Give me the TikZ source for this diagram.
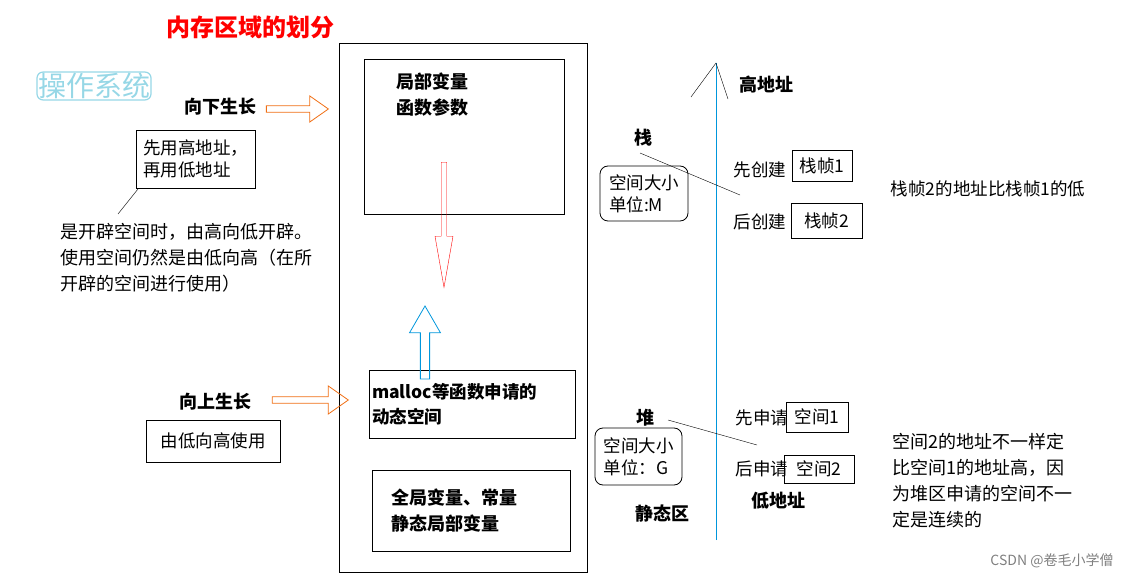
\documentclass[tikz,border=0pt]{standalone}
\usepackage{fontspec}
\setmainfont{Noto Sans CJK SC}
\usetikzlibrary{shapes.arrows}
\definecolor{osblue}{RGB}{150,215,230}
\definecolor{axblue}{RGB}{0,150,220}
\definecolor{grorange}{RGB}{240,110,20}
\tikzstyle{txt}=[inner sep=0pt, font=\fontsize{17.5}{22}\selectfont]
\tikzstyle{bold}=[txt, font=\fontsize{18}{22}\selectfont\bfseries]
\tikzstyle{box}=[draw, txt, inner sep=3pt, align=left]
\tikzstyle{rbox}=[box, rounded corners=8pt, inner sep=3pt]
\tikzstyle{area}=[draw, thick]
\begin{document}
\begin{tikzpicture}[x=1pt, y=-1pt, line width=0.8pt]
                \useasboundingbox (0,0) rectangle (1125,580);
                \node[txt, text=red, font=\fontsize{24}{28}\selectfont\bfseries] (title) at (250,27) {内存区域的划分};
                \node[draw=osblue, very thick, rounded corners=6pt, text=osblue, font=\fontsize{28}{32}\selectfont, inner sep=1pt] (os) at (94,86) {操作系统};
                % memory column
                \draw (339,43) rectangle (587,572);
                \node[area, minimum width=200pt, minimum height=155pt] (stack) at (464,136.5) {};
                \node[txt, font=\fontsize{18}{26}\selectfont\bfseries, align=left, anchor=north west] (locals) at (396,72) {局部变量\\函数参数};
                \node[box, font=\fontsize{17.5}{25}\selectfont\bfseries, minimum width=206pt, minimum height=68pt, text width=200pt, inner sep=2pt] (heap) at (472,404) {malloc等函数申请的\\动态空间};
                \node[box, font=\fontsize{18}{26}\selectfont\bfseries, minimum width=198pt, minimum height=81pt, text width=160pt] (static) at (471,510.5) {全局变量、常量\\静态局部变量};
                \node[single arrow, draw=red, thin, rotate=-90, minimum height=125pt, minimum width=18pt, single arrow head extend=5pt, single arrow tip angle=20, inner sep=2pt] (down) at (444,217) {};
                \node[single arrow, draw=axblue, rotate=90, minimum height=73pt, minimum width=31pt, single arrow head extend=8pt, single arrow tip angle=60, inner sep=3pt] (up) at (425,346.5) {};
                \node[single arrow, draw=grorange, minimum height=62pt, minimum width=26pt, single arrow head extend=7pt, single arrow tip angle=70, inner sep=2pt] (grdown) at (295,109) {};
                \node[single arrow, draw=grorange, minimum height=76pt, minimum width=28pt, single arrow head extend=8pt, single arrow tip angle=70, inner sep=2pt] (grup) at (308,400) {};
                % left notes
                \node[bold] (gdown) at (220,107) {向下生长};
                \node[box, minimum width=119pt, minimum height=58pt] (first) at (195.5,159) {先用高地址，\\再用低地址};
                \coordinate (ntip) at (118,214);
                \draw[thin] (138,189) -- (ntip);
                \node[txt, align=left, anchor=north west, font=\fontsize{18}{26}\selectfont] (note) at (60,223) {是开辟空间时，由高向低开辟。\\使用空间仍然是由低向高（在所\\开辟的空间进行使用）};
                \node[bold] (gup) at (215,402) {向上生长};
                \node[box, minimum width=134pt, minimum height=42pt] (lowhigh) at (213,441) {由低向高使用};
                % address axis
                \coordinate (axlow) at (716,540);
                \coordinate (axtop) at (716,63);
                \draw[axblue, thick] (axlow) -- (axtop);
                \draw[thin] (691,97) -- (axtop) -- (728,99);
                \node[bold] (high) at (766,85) {高地址};
                \node[bold] (low) at (778,501) {低地址};
                \node[bold] (zhan) at (643,138) {栈};
                \node[rbox, minimum width=88pt, minimum height=55pt] (sizem) at (644,193.5) {空间大小\\单位:M};
                \draw[thin] (640,153) -- (740,195);
                \node[txt] (c1) at (760,170) {先创建};
                \node[box, minimum width=60pt, minimum height=31pt] (f1) at (822,165.5) {栈帧1};
                \node[txt] (c2) at (760,222) {后创建};
                \node[box, minimum width=71pt, minimum height=35pt] (f2) at (826.5,220.5) {栈帧2};
                \node[txt] (fnote) at (988,189) {栈帧2的地址比栈帧1的低};
                \node[bold] (dui) at (645,418) {堆};
                \node[rbox, minimum width=87pt, minimum height=57pt] (sizeg) at (638.5,456.5) {空间大小\\单位：G};
                \draw[thin] (668,420) -- (757,445);
                \node[txt] (a1) at (762,418) {先申请};
                \node[box, minimum width=62pt, minimum height=30pt] (s1) at (817,417) {空间1};
                \node[txt] (a2) at (762,469) {后申请};
                \node[box, minimum width=70pt, minimum height=28pt] (s2) at (819,469) {空间2};
                \node[bold] (jing) at (662,514) {静态区};
                \node[txt, align=left, anchor=north west, font=\fontsize{18}{26}\selectfont] (snote) at (892,433) {空间2的地址不一样定\\比空间1的地址高，因\\为堆区申请的空间不一\\定是连续的};
                \node[txt, text=gray, font=\fontsize{14}{16}\selectfont] (mark) at (1052,561) {CSDN @卷毛小学僧};
            \end{tikzpicture}
\end{document}
